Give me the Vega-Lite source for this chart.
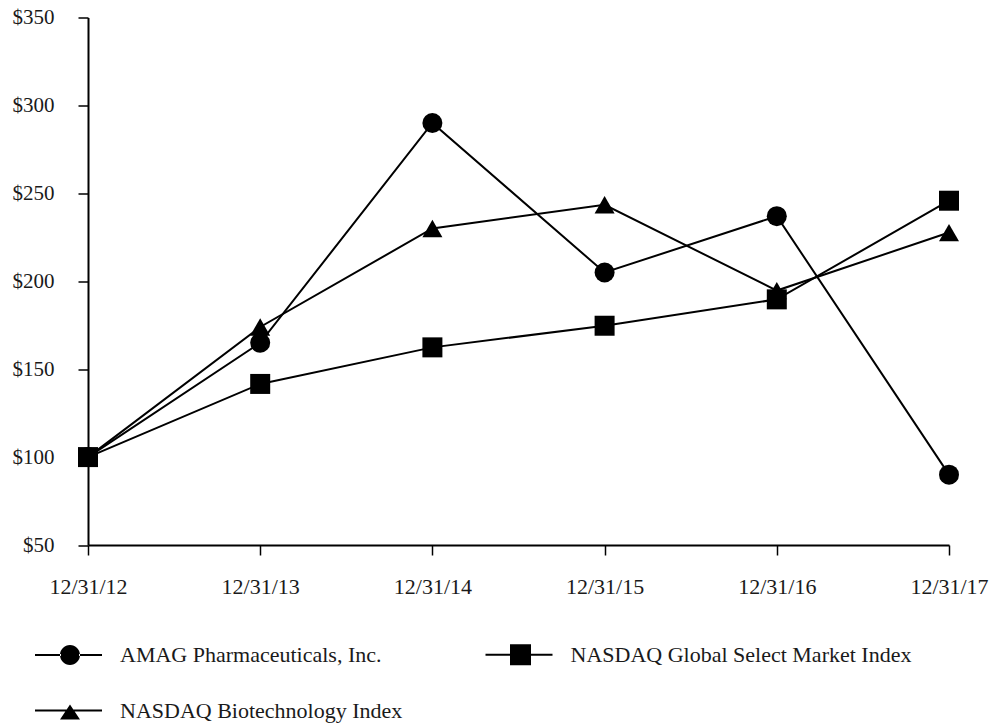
{
  "$schema": "https://vega.github.io/schema/vega-lite/v6.json",
  "width": 861,
  "height": 527.5,
  "autosize": {"type": "none"},
  "padding": {"left": 88, "top": 17.5, "right": 44, "bottom": 180},
  "background": "white",
  "config": {
    "view": {"stroke": null},
    "font": "Liberation Serif",
    "axis": {
      "domainColor": "black",
      "domainWidth": 2,
      "tickColor": "black",
      "tickWidth": 1.5,
      "tickSize": 10,
      "grid": false,
      "labelFont": "Liberation Serif",
      "labelColor": "#1a1a1a",
      "title": null
    }
  },
  "data": {
    "values": [
      {"date": "12/31/12", "series": "AMAG Pharmaceuticals, Inc.", "value": 100},
      {"date": "12/31/13", "series": "AMAG Pharmaceuticals, Inc.", "value": 165},
      {"date": "12/31/14", "series": "AMAG Pharmaceuticals, Inc.", "value": 290},
      {"date": "12/31/15", "series": "AMAG Pharmaceuticals, Inc.", "value": 205},
      {"date": "12/31/16", "series": "AMAG Pharmaceuticals, Inc.", "value": 237},
      {"date": "12/31/17", "series": "AMAG Pharmaceuticals, Inc.", "value": 90},
      {"date": "12/31/12", "series": "NASDAQ Biotechnology Index", "value": 100},
      {"date": "12/31/13", "series": "NASDAQ Biotechnology Index", "value": 174},
      {"date": "12/31/14", "series": "NASDAQ Biotechnology Index", "value": 230},
      {"date": "12/31/15", "series": "NASDAQ Biotechnology Index", "value": 243.5},
      {"date": "12/31/16", "series": "NASDAQ Biotechnology Index", "value": 194.7},
      {"date": "12/31/17", "series": "NASDAQ Biotechnology Index", "value": 227.7},
      {"date": "12/31/12", "series": "NASDAQ Global Select Market Index", "value": 100},
      {"date": "12/31/13", "series": "NASDAQ Global Select Market Index", "value": 141.6},
      {"date": "12/31/14", "series": "NASDAQ Global Select Market Index", "value": 162.4},
      {"date": "12/31/15", "series": "NASDAQ Global Select Market Index", "value": 174.7},
      {"date": "12/31/16", "series": "NASDAQ Global Select Market Index", "value": 189.7},
      {"date": "12/31/17", "series": "NASDAQ Global Select Market Index", "value": 245.8}
    ]
  },
  "encoding": {
    "x": {
      "field": "date",
      "type": "ordinal",
      "scale": {"type": "point", "padding": 0},
      "axis": {"labelAngle": 0, "labelFontSize": 22, "labelPadding": 21, "labelBaseline": "top"}
    },
    "y": {
      "field": "value",
      "type": "quantitative",
      "scale": {"domain": [50, 350], "nice": false, "zero": false},
      "axis": {"values": [50, 100, 150, 200, 250, 300, 350], "labelExpr": "'$' + datum.value", "labelFontSize": 21, "labelPadding": 24}
    }
  },
  "layer": [
    {
      "mark": {"type": "line", "color": "black", "strokeWidth": 2},
      "encoding": {"detail": {"field": "series", "type": "nominal"}}
    },
    {
      "mark": {"type": "point", "filled": true, "color": "black", "opacity": 1, "size": 400},
      "encoding": {
        "shape": {
          "field": "series",
          "type": "nominal",
          "scale": {
            "domain": ["AMAG Pharmaceuticals, Inc.", "NASDAQ Global Select Market Index", "NASDAQ Biotechnology Index"],
            "range": ["circle", "square", "triangle-up"]
          },
          "legend": null
        }
      }
    },
    {
      "transform": [{"filter": "datum.value < 0"}],
      "mark": {"type": "point", "filled": true, "color": "black", "opacity": 1, "size": 400},
      "encoding": {
        "shape": {
          "field": "series",
          "type": "nominal",
          "scale": {
            "domain": ["AMAG Pharmaceuticals, Inc.", "NASDAQ Global Select Market Index", "NASDAQ Biotechnology Index"],
            "range": [
              "M-3.5,-0.1L-3.5,0.1L-0.9,0.1L-0.9,-0.1ZM0.9,-0.1L0.9,0.1L3.2,0.1L3.2,-0.1ZM1,0A1,1,0,1,1,-1,0A1,1,0,1,1,1,0Z",
              "M-3.5,-0.1L-3.5,0.1L-1,0.1L-1,-0.1ZM1,-0.1L1,0.1L3.2,0.1L3.2,-0.1ZM-1.05,-1.05L-1.05,1.05L1.05,1.05L1.05,-1.05Z",
              "M-3.5,-0.1L-3.5,0.1L-0.35,0.1L-0.35,-0.1ZM0.35,-0.1L0.35,0.1L3.2,0.1L3.2,-0.1ZM0,-0.6L-1,0.9L1,0.9Z"
            ]
          },
          "legend": {
            "orient": "none",
            "direction": "horizontal",
            "legendX": -29,
            "legendY": 626,
            "columns": 2,
            "title": null,
            "padding": 0,
            "symbolSize": 400,
            "labelOffset": 39,
            "columnPadding": 79.5,
            "rowPadding": 31,
            "labelFont": "Liberation Serif",
            "labelFontSize": 22,
            "labelColor": "#1a1a1a",
            "labelLimit": 0,
            "encode": {
              "symbols": {
                "update": {
                  "fill": {"value": "black"},
                  "opacity": {"value": 1}
                }
              }
            }
          }
        }
      }
    }
  ],
  "resolve": {"scale": {"shape": "independent"}}
}
